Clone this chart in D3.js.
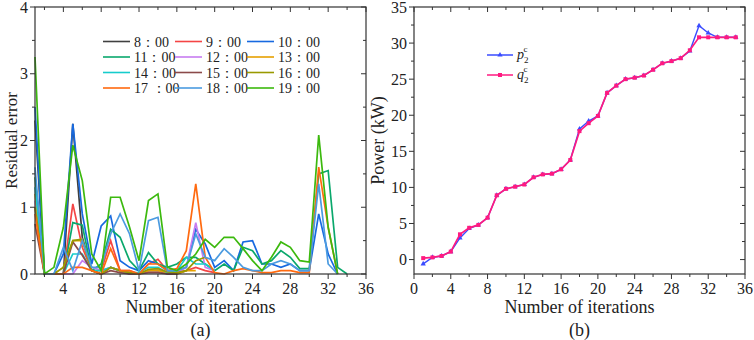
<!DOCTYPE html>
<html>
<head>
<meta charset="utf-8">
<script src="https://cdn.jsdelivr.net/npm/d3@7"></script>
<style>
  body { margin: 0; background: #fff; }
  svg text { font-family: "Liberation Serif", "Times New Roman", serif; fill: #222; }
</style>
</head>
<body>
<svg id="chart" width="754" height="340"></svg>
<script>
// ---- panel (a): residual error per hour ----
const hourLabels = ["8：00", "9：00", "10：00", "11：00", "12：00", "13：00",
                    "14：00", "15：00", "16：00", "17 ：00", "18：00", "19：00"];
const hourColors = ["#404040", "#f44545", "#1769e0", "#0aa86c", "#c77cf0", "#e6a000",
                    "#16cccc", "#8b4a4a", "#999900", "#ff6a10", "#4b9be0", "#3cb90e"];
const r0800 = [2.3, 0, 0, 0, 2.25, 0.55, 0.05, 0, 0.1, 0.05, 0, 0, 0.05, 0.05, 0, 0, 0.05];
const r0900 = [1.0, 0, 0, 0, 1.05, 0.4, 0.05, 0.05, 0.5, 0.05, 0.05, 0, 0.15, 0.22, 0.05, 0.03, 0.05, 0.1, 0.05, 0.02];
const r1000 = [2.5, 0, 0, 0.3, 2.25, 0.9, 0.15, 0.72, 0.87, 0.2, 0.1, 0.05, 0.2, 0.15, 0.05, 0.05, 0.1, 0.67, 0.45, 0.1,
               0.2, 0.05, 0.48, 0.5, 0.15, 0.15, 0.1, 0.15, 0.05, 0.05, 0.9, 0.3, 0];
const r1100 = [1.45, 0, 0, 0, 0.77, 0.73, 0.05, 0.15, 0.67, 0.55, 0.2, 0.05, 0.32, 0.15, 0.1, 0.15, 0.25, 0.25, 0.15, 0.05,
               0.15, 0.05, 0.4, 0.35, 0.15, 0.2, 0.35, 0.25, 0.08, 0.08, 1.5, 1.55, 0.1, 0];
const r1200 = [1.1, 0, 0, 0, 0, 0.2, 0.1, 0.05, 0.1, 0.05, 0, 0, 0.05, 0.05, 0.02, 0.02, 0.1, 0.77, 0.1, 0.05];
const r1300 = [1.2, 0, 0, 0.1, 0.5, 0.5, 0.05, 0, 0.1, 0.05, 0.02, 0, 0.05, 0.05, 0.02, 0, 0.05, 0.05];
const r1400 = [1.3, 0, 0, 0, 0.3, 0.3, 0.05, 0.05, 0.1, 0.05, 0.02, 0.02, 0.1, 0.1, 0.02, 0.05, 0.25, 0.15, 0.15, 0.05];
const r1500 = [0.75, 0, 0, 0, 0.48, 0.28, 0.05, 0, 0.05, 0.02, 0, 0, 0.02, 0.02, 0, 0];
const r1600 = [1.0, 0, 0, 0.1, 0.5, 0.52, 0.05, 0, 0.1, 0.05, 0.02, 0, 0.07, 0.08, 0.03, 0.02, 0.05, 0.2, 0.25];
const r1700 = [0.9, 0, 0, 0, 0.1, 0.1, 0.05, 0, 0.38, 0.05, 0.05, 0, 0.15, 0.15, 0.05, 0.08, 0.35, 1.35, 0.25, 0.02,
               0, 0.05, 0.08, 0.05, 0.02, 0.02, 0.05, 0.05, 0.02, 0.02, 1.6, 0.7, 0];
const r1800 = [1.6, 0, 0, 0.4, 0.05, 0.5, 0.1, 0.1, 0.6, 0.9, 0.6, 0.05, 0.8, 0.85, 0.05, 0.05, 0.1, 0.6, 0.25, 0.2,
               0.38, 0.25, 0.1, 0.05, 0.05, 0.15, 0.2, 0.15, 0.05, 0.05, 1.35, 0.15, 0];
const r1900 = [3.25, 0, 0.1, 0.7, 1.93, 1.4, 0.3, 0.05, 1.15, 1.15, 0.7, 0.2, 1.1, 1.2, 0.1, 0.05, 0.15, 0.3, 0.52, 0.4,
               0.55, 0.55, 0.38, 0.2, 0.05, 0.25, 0.48, 0.4, 0.2, 0.18, 2.08, 0.7, 0];
const residuals = [r0800, r0900, r1000, r1100, r1200, r1300, r1400, r1500, r1600, r1700, r1800, r1900];

// ---- panel (b): power ----
const pPower = [-0.6, 0.3, 0.5, 1.1, 3.0, 4.3, 4.8, 5.8, 8.9, 9.8, 10.1, 10.4, 11.4, 11.8, 11.9, 12.5, 13.8, 18.1,
                19.2, 19.9, 23.1, 24.1, 25.0, 25.2, 25.5, 26.3, 27.2, 27.5, 27.9, 28.9, 32.4, 31.4, 30.8, 30.8, 30.8];
const qPower = [0.2, 0.3, 0.5, 1.1, 3.5, 4.4, 4.8, 5.8, 8.9, 9.8, 10.1, 10.4, 11.4, 11.8, 11.9, 12.5, 13.8, 17.8,
                18.9, 19.9, 23.1, 24.1, 25.0, 25.2, 25.5, 26.3, 27.2, 27.5, 27.9, 29.0, 30.8, 30.8, 30.8, 30.8, 30.8];

const svg = d3.select("#chart");
const plotTop = 7, plotBottom = 274;
const plotH = plotBottom - plotTop;

// draw the four-sided Origin-style frame with ticks
function frame(g, x, y, xTicks, xMinor, yTicks, yMinor, w) {
  const h = plotH;
  g.append("rect").attr("x", 0).attr("y", 0).attr("width", w).attr("height", h)
    .attr("fill", "none").attr("stroke", "#333").attr("stroke-width", 1.2);
  const tick = (x1, y1, x2, y2) => g.append("line")
    .attr("x1", x1).attr("y1", y1).attr("x2", x2).attr("y2", y2)
    .attr("stroke", "#333").attr("stroke-width", 1);
  xTicks.forEach(v => { tick(x(v), h, x(v), h + 5); tick(x(v), 0, x(v), 5); });
  xMinor.forEach(v => { tick(x(v), h, x(v), h + 3); tick(x(v), 0, x(v), 3); });
  yTicks.forEach(v => { tick(0, y(v), -5, y(v)); tick(w, y(v), w - 5, y(v)); });
  yMinor.forEach(v => { tick(0, y(v), -3, y(v)); tick(w, y(v), w - 3, y(v)); });
  g.selectAll(".xl").data(xTicks).enter().append("text")
    .attr("x", d => x(d)).attr("y", h + 20).attr("text-anchor", "middle")
    .attr("font-size", 16).text(d => d);
  g.selectAll(".yl").data(yTicks).enter().append("text")
    .attr("x", -7).attr("y", d => y(d) + 5.5).attr("text-anchor", "end")
    .attr("font-size", 16).text(d => d);
}

// ---------- panel (a) ----------
const aLeft = 35, aRight = 366;
const xa = d3.scaleLinear().domain([1, 36]).range([0, aRight - aLeft]);
const ya = d3.scaleLinear().domain([0, 4]).range([plotH, 0]);
const ga = svg.append("g").attr("transform", `translate(${aLeft},${plotTop})`);

const lineA = d3.line().x((d, i) => xa(i + 1)).y(d => ya(d));
residuals.forEach((s, k) => {
  ga.append("path").datum(s).attr("d", lineA)
    .attr("fill", "none").attr("stroke", hourColors[k]).attr("stroke-width", 1.7);
});
frame(ga, xa, ya, d3.range(4, 37, 4), d3.range(2, 36, 4), [0, 1, 2, 3, 4], [0.5, 1.5, 2.5, 3.5],
      aRight - aLeft);

// legend (a)
const legA = svg.append("g");
hourLabels.forEach((lab, k) => {
  const col = k % 3, row = Math.floor(k / 3);
  const lx = 103 + col * 72, ly = 41.5 + row * 15.5;
  legA.append("line").attr("x1", lx).attr("x2", lx + 27).attr("y1", ly).attr("y2", ly)
    .attr("stroke", hourColors[k]).attr("stroke-width", 1.6);
  legA.append("text").attr("x", lx + 31).attr("y", ly + 5).attr("font-size", 14).text(lab);
});

svg.append("text").attr("transform", `translate(17,${(plotTop + plotBottom) / 2}) rotate(-90)`)
  .attr("text-anchor", "middle").attr("font-size", 17).text("Residual error");
svg.append("text").attr("x", (aLeft + aRight) / 2).attr("y", 313)
  .attr("text-anchor", "middle").attr("font-size", 18).text("Number of iterations");
svg.append("text").attr("x", (aLeft + aRight) / 2).attr("y", 336)
  .attr("text-anchor", "middle").attr("font-size", 18).text("(a)");

// ---------- panel (b) ----------
const bLeft = 414, bRight = 745;
const xb = d3.scaleLinear().domain([0, 36]).range([0, bRight - bLeft]);
const yb = d3.scaleLinear().domain([-2, 35]).range([plotH, 0]);
const gb = svg.append("g").attr("transform", `translate(${bLeft},${plotTop})`);

const lineB = d3.line().x((d, i) => xb(i + 1)).y(d => yb(d));
gb.append("path").datum(pPower).attr("d", lineB)
  .attr("fill", "none").attr("stroke", "#3a4cff").attr("stroke-width", 1.4);
gb.selectAll(".pm").data(pPower).enter().append("path")
  .attr("transform", (d, i) => `translate(${xb(i + 1)},${yb(d)})`)
  .attr("d", d3.symbol(d3.symbolTriangle, 12)).attr("fill", "#3a4cff");
gb.append("path").datum(qPower).attr("d", lineB)
  .attr("fill", "none").attr("stroke", "#ff1a80").attr("stroke-width", 1.7);
gb.selectAll(".qm").data(qPower).enter().append("rect")
  .attr("x", (d, i) => xb(i + 1) - 2).attr("y", d => yb(d) - 2)
  .attr("width", 4).attr("height", 4).attr("fill", "#ff1a80");
frame(gb, xb, yb, d3.range(0, 37, 4), d3.range(2, 36, 4), d3.range(0, 36, 5),
      d3.range(2.5, 35, 5), bRight - bLeft);

// legend (b)
const legB = svg.append("g");
[["p", "#3a4cff", "tri"], ["q", "#ff1a80", "sq"]].forEach(([name, c, m], k) => {
  const ly = 55 + k * 20;
  legB.append("line").attr("x1", 487).attr("x2", 513).attr("y1", ly).attr("y2", ly)
    .attr("stroke", c).attr("stroke-width", 1.5);
  if (m === "tri") {
    legB.append("path").attr("transform", `translate(500,${ly})`)
      .attr("d", d3.symbol(d3.symbolTriangle, 12)).attr("fill", c);
  } else {
    legB.append("rect").attr("x", 498).attr("y", ly - 2).attr("width", 4).attr("height", 4).attr("fill", c);
  }
  const t = legB.append("text").attr("x", 517).attr("y", ly + 4).attr("font-size", 14);
  t.append("tspan").attr("font-style", "italic").text(name);
  t.append("tspan").attr("font-size", 9).attr("dy", 4).text("2");
  t.append("tspan").attr("font-size", 9).attr("dx", -5).attr("dy", -11).text("c");
});

svg.append("text").attr("transform", `translate(384,${(plotTop + plotBottom) / 2}) rotate(-90)`)
  .attr("text-anchor", "middle").attr("font-size", 18).text("Power (kW)");
svg.append("text").attr("x", (bLeft + bRight) / 2).attr("y", 313)
  .attr("text-anchor", "middle").attr("font-size", 18).text("Number of iterations");
svg.append("text").attr("x", (bLeft + bRight) / 2).attr("y", 336)
  .attr("text-anchor", "middle").attr("font-size", 18).text("(b)");
</script>
</body>
</html>
